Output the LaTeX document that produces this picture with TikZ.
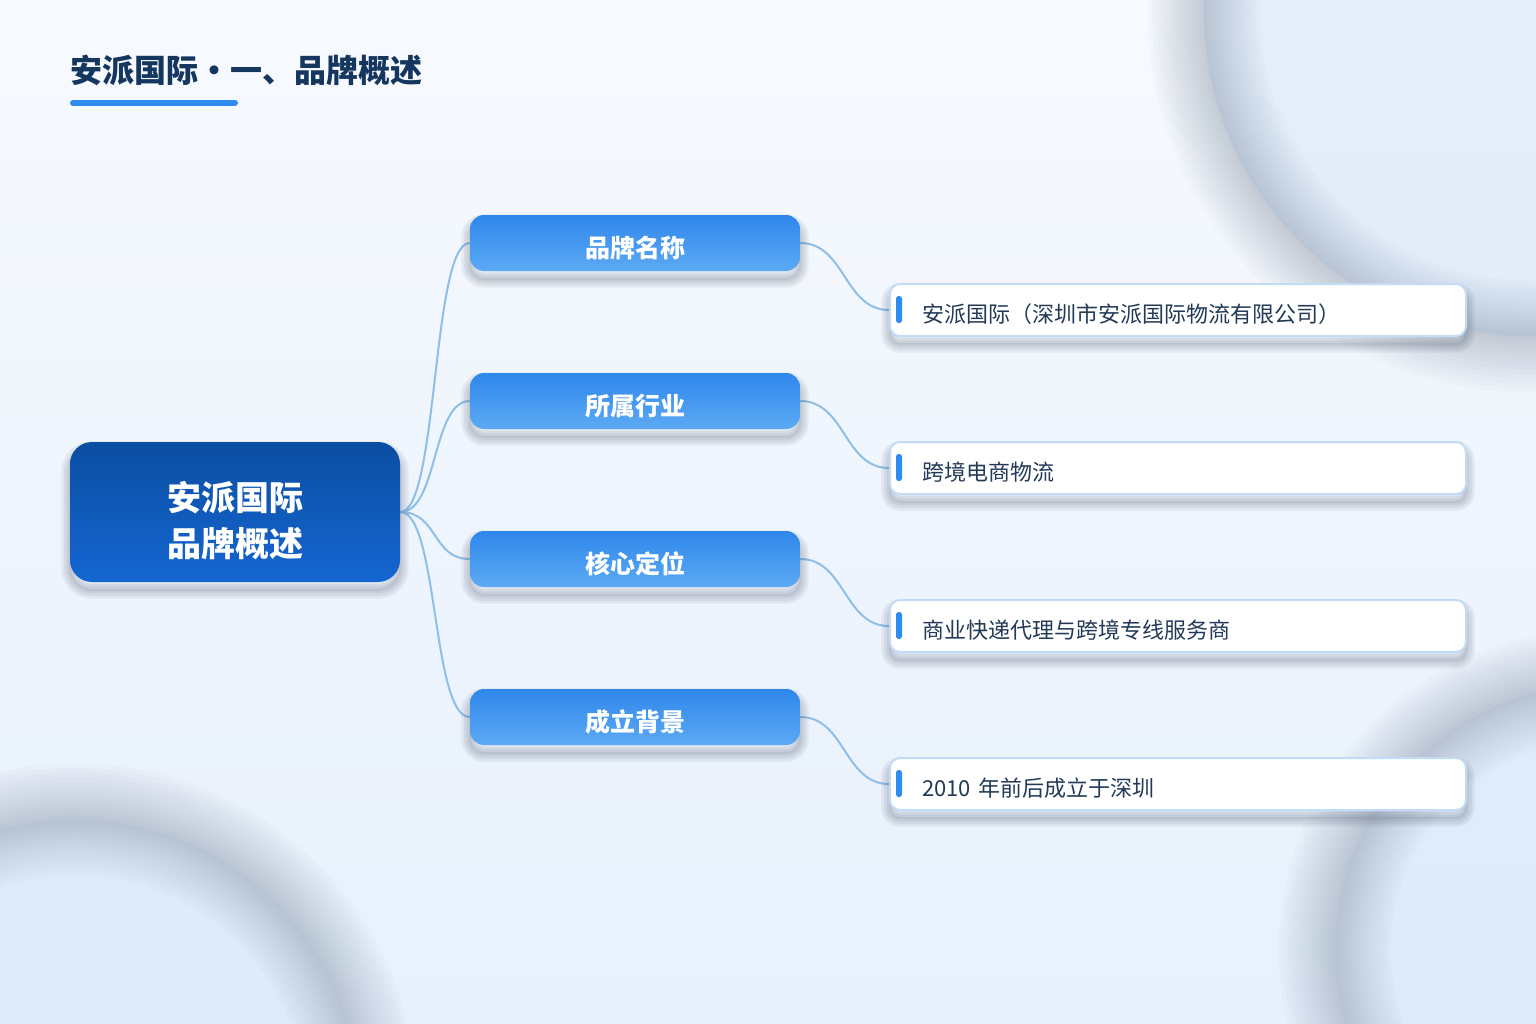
\documentclass[tikz,border=0pt]{standalone}
\usepackage{fontspec}
\setmainfont{Noto Sans CJK SC}
\usetikzlibrary{calc}
\definecolor{bgtop}{HTML}{F7FAFE}
\definecolor{bgbot}{HTML}{E7F0FC}
\definecolor{ringc}{HTML}{8290A4}
\definecolor{ringin}{HTML}{D6E5F8}
\definecolor{titlec}{HTML}{15375F}
\definecolor{barc}{HTML}{2E8BEF}
\definecolor{roottop}{HTML}{0B4EA2}
\definecolor{rootbot}{HTML}{1566D2}
\definecolor{lvtop}{HTML}{2F87EB}
\definecolor{lvbot}{HTML}{5CAAF4}
\definecolor{leafborder}{HTML}{C3DCF5}
\definecolor{leaftext}{HTML}{223A57}
\definecolor{connc}{HTML}{8FBFE8}
\definecolor{shc}{HTML}{3C4A5E}
\newcommand\lowertxt[2]{\raisebox{-#1}[\height][\depth]{#2}}
\pgfdeclarelayer{bg}
\pgfdeclarelayer{links}
\pgfsetlayers{bg,links,main}
\begin{document}
\begin{tikzpicture}[x=0.75pt,y=-0.75pt,
  sh/.style={preaction={draw=shc,line width=#1,draw opacity=0.08,transform canvas={yshift=-6pt}}},
  softshadow/.style={sh=13pt,sh=9pt,sh=5pt,sh=1.5pt},
  rootbox/.style={softshadow,rounded corners=16.5pt,top color=roottop,bottom color=rootbot,
    minimum width=247.5pt,minimum height=105pt,inner sep=0pt,align=center,text=white,
    font=\fontsize{25.5pt}{34.5pt}\selectfont\bfseries},
  lvbox/.style={softshadow,rounded corners=10.5pt,top color=lvtop,bottom color=lvbot,
    minimum width=247.5pt,minimum height=42pt,inner sep=0pt,text=white,
    font=\fontsize{18.75pt}{22pt}\selectfont\bfseries},
  leafbox/.style={softshadow,rounded corners=7.5pt,fill=white,draw=leafborder,line width=1.5pt,
    minimum width=432pt,minimum height=39pt,inner xsep=24pt,inner ysep=0pt,
    text width=384pt,align=left,text=leaftext,font=\fontsize{16.5pt}{20pt}\selectfont},
  conn/.style={draw=connc,line width=1.5pt},
  leafbar/.style={fill=barc,rounded corners=2pt},
  ring/.style={draw=ringc,line width=#1,draw opacity=0.037}
]
\useasboundingbox (0,0) rectangle (1536,1024);
\begin{pgfonlayer}{bg}
\shade[top color=bgtop,bottom color=bgbot] (0,0) rectangle (1536,1024);
\begin{scope}
\clip (0,0) rectangle (1536,1024);
\fill[ringin,opacity=0.55] (1530,10) circle[radius=245pt];
\fill[ringin,opacity=0.45] (75,1106) circle[radius=215pt];
\fill[ringin,opacity=0.45] (1600,950) circle[radius=199pt];
\foreach \w in {84pt,77pt,70pt,63pt,56pt,49pt,42pt,36pt,30pt,24pt,18pt,12pt,6pt}{
  \draw[ring=\w] (1530,10) circle[radius=245pt];
  \draw[ring=\w] (75,1106) circle[radius=215pt];
  \draw[ring=\w] (1600,950) circle[radius=199pt];
}
\end{scope}
\end{pgfonlayer}

% title
\node[anchor=west,inner sep=0pt,text=titlec,font=\fontsize{24pt}{28pt}\selectfont\bfseries] (title) at (70,70) {安派国际・一、品牌概述};
\coordinate (ul1) at (73,103);
\coordinate (ul2) at (235,103);
\draw[barc,line width=4.5pt,line cap=round] (ul1) -- (ul2);

% nodes
\node[rootbox] (root) at (235,512) {\lowertxt{9pt}{\begin{tabular}{@{}c@{}}安派国际\\品牌概述\end{tabular}}};
\node[lvbox] (a1) at (635,243) {\lowertxt{3.75pt}{品牌名称}};
\node[lvbox] (a2) at (635,401) {\lowertxt{3.75pt}{所属行业}};
\node[lvbox] (a3) at (635,559) {\lowertxt{3.75pt}{核心定位}};
\node[lvbox] (a4) at (635,717) {\lowertxt{3.75pt}{成立背景}};
\node[leafbox] (b1) at (1178,310) {\lowertxt{3pt}{安派国际（深圳市安派国际物流有限公司）}};
\node[leafbox] (b2) at (1178,468) {\lowertxt{3pt}{跨境电商物流}};
\node[leafbox] (b3) at (1178,626) {\lowertxt{3pt}{商业快递代理与跨境专线服务商}};
\node[leafbox] (b4) at (1178,784) {\lowertxt{3pt}{2010 年前后成立于深圳}};
\foreach \i in {1,...,4}{
  \fill[leafbar] ($(b\i.west)+(7,-14)$) rectangle ($(b\i.west)+(13,13)$);
}

\begin{pgfonlayer}{links}
\foreach \i in {1,...,4}{
  \draw[conn] (root.east) .. controls +(38,0) and +(-38,0) .. (a\i.west);
  \draw[conn] (a\i.east) .. controls +(45,0) and +(-45,0) .. (b\i.west);
}
\end{pgfonlayer}
\end{tikzpicture}
\end{document}
